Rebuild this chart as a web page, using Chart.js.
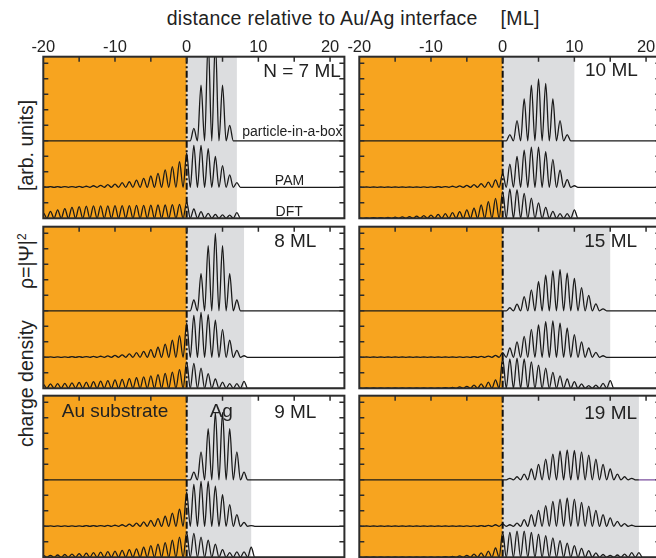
<!DOCTYPE html>
<html>
<head>
<meta charset="utf-8">
<script src="https://cdn.jsdelivr.net/npm/chart.js@4.4.1/dist/chart.umd.min.js"></script>
<style>
  body { margin: 0; width: 656px; height: 558px; overflow: hidden; background: #fff; position: relative;
         font-family: "Liberation Sans", Arial, sans-serif; color: #222; }
  canvas { position: absolute; }
  #title { position: absolute; left: 166.7px; top: 7.2px; font-size: 19.5px; line-height: 22px;
           letter-spacing: 0.3px; white-space: nowrap; }
  .ylab { position: absolute; left: 15.2px; font-size: 19.5px; line-height: 22px;
          white-space: nowrap; transform-origin: 0 0; transform: rotate(-90deg); }
  .ylab sup { font-size: 12px; line-height: 0; }
</style>
</head>
<body>
<div id="title">distance relative to Au/Ag interface&nbsp;&nbsp;&nbsp;&nbsp;[ML]</div>
<div class="ylab" style="top:447px">charge density</div>
<div class="ylab" style="top:289px">ρ=|Ψ|<sup>2</sup></div>
<div class="ylab" style="top:191px">[arb. units]</div>
<canvas id="c7"></canvas>
<canvas id="c10"></canvas>
<canvas id="c8"></canvas>
<canvas id="c15"></canvas>
<canvas id="c9"></canvas>
<canvas id="c19"></canvas>
<script>
// top axis labels
const xTicks = [-20, -10, 0, 10, 20];

// peak heights (arb. units) read per monolayer
// PIB: film only, starts at x = 0
// PAM / DFT: substrate starts at x = -20, film starts at x = 0
const pib7 = [0, 0.8, 3.6, 6.5, 6.5, 3.6, 1.0, 0];
const pam7sub = [0.04, 0.04, 0.04, 0.05, 0.05, 0.06, 0.07, 0.1, 0.13, 0.17, 0.2, 0.3, 0.36, 0.47, 0.58, 0.73, 0.9, 1.12, 1.33, 1.65];
const pam7 = [2.2, 2.7, 2.7, 2.5, 2.0, 1.4, 0.8, 0.3];
const dft7sub = [0.35, 0.45, 0.55, 0.62, 0.7, 0.75, 0.78, 0.8, 0.8, 0.8, 0.82, 0.82, 0.82, 0.84, 0.84, 0.85, 0.86, 0.86, 0.88, 0.9];
const dft7 = [1.05, 0.6, 0.43, 0.32, 0.25, 0.22, 0.2, 0.36];

const pib8 = [0, 0.7, 2.4, 4.2, 5.0, 4.2, 2.4, 0.7, 0];
const pam8sub = [0.03, 0.03, 0.03, 0.03, 0.04, 0.04, 0.05, 0.06, 0.07, 0.09, 0.12, 0.16, 0.22, 0.3, 0.38, 0.5, 0.65, 0.85, 1.1, 1.4];
const pam8 = [2.2, 2.7, 2.9, 2.75, 2.4, 1.8, 1.1, 0.45, 0.1];
const dft8sub = [0.25, 0.28, 0.3, 0.32, 0.35, 0.38, 0.4, 0.43, 0.46, 0.5, 0.54, 0.58, 0.63, 0.68, 0.74, 0.8, 0.88, 0.96, 1.05, 1.2];
const dft8 = [1.7, 1.6, 1.3, 0.95, 0.6, 0.4, 0.3, 0.3, 0.45];

const pib9 = [0, 0.5, 1.8, 3.3, 4.35, 4.35, 3.3, 1.8, 0.5, 0];
const pam9sub = [0.03, 0.03, 0.03, 0.03, 0.03, 0.03, 0.04, 0.04, 0.05, 0.06, 0.07, 0.1, 0.14, 0.2, 0.28, 0.38, 0.5, 0.65, 0.85, 1.1];
const pam9 = [2.2, 2.7, 2.9, 2.9, 2.6, 2.05, 1.4, 0.75, 0.25, 0.05];
const dft9sub = [0.12, 0.13, 0.15, 0.18, 0.21, 0.24, 0.27, 0.3, 0.34, 0.37, 0.4, 0.45, 0.5, 0.55, 0.65, 0.75, 0.85, 0.95, 1.1, 1.3];
const dft9 = [1.6, 1.55, 1.3, 1.1, 0.85, 0.5, 0.3, 0.35, 0.35, 0.65];

const pib10 = [0, 0.4, 1.3, 2.7, 3.6, 4.0, 3.7, 2.7, 1.3, 0.4, 0];
const pam10sub = [0.02, 0.02, 0.02, 0.02, 0.02, 0.02, 0.02, 0.02, 0.02, 0.03, 0.03, 0.04, 0.05, 0.07, 0.09, 0.12, 0.17, 0.24, 0.33, 0.48];
const pam10 = [0.9, 1.5, 2.0, 2.4, 2.6, 2.6, 2.3, 1.8, 1.1, 0.5, 0.1];
const dft10sub = [0.03, 0.03, 0.04, 0.05, 0.06, 0.07, 0.09, 0.11, 0.14, 0.17, 0.2, 0.25, 0.3, 0.36, 0.43, 0.54, 0.65, 0.86, 1.07, 1.29];
const dft10 = [1.72, 1.9, 1.85, 1.6, 1.3, 1.0, 0.7, 0.45, 0.3, 0.3, 0.55];

const pib15 = [0, 0.2, 0.43, 0.92, 1.35, 1.9, 2.3, 2.58, 2.65, 2.43, 2.1, 1.5, 1.0, 0.45, 0.13, 0];
const pam15sub = [0.02, 0.02, 0.02, 0.02, 0.02, 0.02, 0.02, 0.02, 0.02, 0.02, 0.02, 0.02, 0.02, 0.02, 0.03, 0.03, 0.04, 0.06, 0.08, 0.12];
const pam15 = [0.3, 0.6, 1.0, 1.35, 1.8, 2.1, 2.3, 2.35, 2.2, 1.9, 1.47, 1.0, 0.6, 0.32, 0.1, 0];
const dft15sub = [0.02, 0.02, 0.02, 0.02, 0.02, 0.02, 0.02, 0.02, 0.02, 0.02, 0.03, 0.03, 0.04, 0.06, 0.09, 0.13, 0.2, 0.28, 0.4, 0.55];
const dft15 = [1.95, 1.9, 1.95, 1.9, 1.7, 1.5, 1.3, 1.03, 0.8, 0.6, 0.43, 0.28, 0.17, 0.2, 0.32, 0.5];

const pib19 = [0, 0.1, 0.2, 0.37, 0.7, 1.0, 1.33, 1.65, 1.87, 1.93, 1.9, 1.8, 1.6, 1.33, 1.0, 0.7, 0.37, 0.2, 0.1, 0];
const pam19sub = [0.02, 0.02, 0.02, 0.02, 0.02, 0.02, 0.02, 0.02, 0.02, 0.02, 0.02, 0.02, 0.02, 0.02, 0.02, 0.03, 0.03, 0.04, 0.06, 0.1];
const pam19 = [0.15, 0.1, 0.2, 0.43, 0.75, 1.03, 1.33, 1.6, 1.76, 1.83, 1.76, 1.55, 1.3, 1.03, 0.75, 0.54, 0.32, 0.17, 0.07, 0];
const dft19sub = [0.02, 0.02, 0.02, 0.02, 0.02, 0.02, 0.02, 0.02, 0.02, 0.02, 0.03, 0.03, 0.04, 0.06, 0.09, 0.13, 0.2, 0.28, 0.4, 0.6];
const dft19 = [1.6, 1.6, 1.68, 1.68, 1.6, 1.5, 1.4, 1.25, 1.07, 0.92, 0.75, 0.58, 0.43, 0.28, 0.18, 0.12, 0.15, 0.2, 0.3, 0.3];

const XMIN = -20, XMAX = 22, YMAX = 10.43;
const PIB_BASE = 5, PAM_BASE = 2, DFT_BASE = 0;

const ORANGE = '#f7a41f', GRAY = '#dcdddf', INK = '#1a1a1a', FRAME = '#2c2c2c', VIOLET = '#7b4f9e';
const FONT = '"Liberation Sans", Arial, sans-serif';

// plot area geometry (px)
const COL_X = [43.3, 359.3];
const ROW_Y = [56.7, 226.7, 395.7];
const PW = 301.1, PH = 161.6, M = 16;

// peaks at whole monolayers, density minima half way between
function osc(startX, peaks, base) {
  const pts = [{ x: XMIN - 1, y: base }];
  peaks.forEach((h, i) => {
    const x = startX + i;
    pts.push({ x: x - 0.5, y: base });
    pts.push({ x: x, y: base + h });
  });
  const last = startX + peaks.length - 1;
  pts.push({ x: last + 0.5, y: base });
  pts.push({ x: XMAX + 1, y: base });
  return pts;
}

const panelPlugin = {
  id: 'panel',
  beforeDatasetsDraw(chart, args, o) {
    const { ctx, chartArea: a, scales: { x } } = chart;
    ctx.save();
    ctx.fillStyle = ORANGE;
    ctx.fillRect(a.left, a.top, x.getPixelForValue(0) - a.left, a.bottom - a.top);
    ctx.fillStyle = GRAY;
    ctx.fillRect(x.getPixelForValue(0), a.top, x.getPixelForValue(o.n) - x.getPixelForValue(0), a.bottom - a.top);
    ctx.restore();
  },
  afterDatasetsDraw(chart, args, o) {
    const { ctx, chartArea: a, scales: { x, y } } = chart;
    ctx.save();
    // interface line
    const x0 = x.getPixelForValue(0);
    ctx.strokeStyle = '#111';
    ctx.lineWidth = 2;
    ctx.setLineDash([7, 2.5, 2, 2.5]);
    ctx.beginPath(); ctx.moveTo(x0, a.top); ctx.lineTo(x0, a.bottom); ctx.stroke();
    ctx.setLineDash([]);
    // inward ticks
    ctx.strokeStyle = FRAME;
    ctx.lineWidth = 1.5;
    ctx.beginPath();
    for (let v = -15; v <= 20; v += 5) {
      const px = x.getPixelForValue(v);
      ctx.moveTo(px, a.top); ctx.lineTo(px, a.top + 5);
    }
    for (let v = 1; v <= 10; v++) {
      const py = y.getPixelForValue(v);
      ctx.moveTo(a.left, py); ctx.lineTo(a.left + 5, py);
      ctx.moveTo(a.right, py); ctx.lineTo(a.right - 5, py);
    }
    ctx.stroke();
    // frame
    ctx.lineWidth = 2;
    ctx.strokeRect(a.left, a.top, a.right - a.left, a.bottom - a.top);
    // texts
    ctx.fillStyle = '#222';
    ctx.textBaseline = 'alphabetic';
    (o.texts || []).forEach(t => {
      ctx.font = t.size + 'px ' + FONT;
      ctx.textAlign = t.align;
      ctx.fillText(t.text, x.getPixelForValue(t.x), y.getPixelForValue(t.y));
    });
    ctx.restore();
  }
};

function bigLabel(text, xv, yv, align) {
  return { text, x: xv, y: yv, align: align || 'right', size: 19 };
}
function smallLabel(text, xv, yv, align) {
  return { text, x: xv, y: yv, align, size: 14 };
}

function makePanel(id, row, col, n, pib, pamSub, pam, dftSub, dft, texts, tailColor) {
  const el = document.getElementById(id);
  const left = Math.floor(COL_X[col]) - M;
  const top = row === 0 ? 0 : Math.floor(ROW_Y[row]) - M;
  const w = Math.ceil(PW) + 2 * M;
  const h = Math.ceil(ROW_Y[row] + PH) + M - top;
  el.width = w; el.height = h;
  el.style.left = left + 'px'; el.style.top = top + 'px';
  const padL = COL_X[col] - left;
  const padT = row === 0 ? 0 : ROW_Y[row] - top;
  const padB = h - (ROW_Y[row] + PH - top);
  const topRow = row === 0;

  const line = (data, extra) => Object.assign({
    data, borderColor: INK, borderWidth: 1.3, pointRadius: 0,
    cubicInterpolationMode: 'monotone', fill: false, clip: { left: 0, top: 0, right: 0, bottom: 2 }
  }, extra || {});

  const pibExtra = tailColor
    ? { segment: { borderColor: c => (c.p0.parsed.x >= n ? tailColor : undefined) } }
    : null;

  new Chart(el, {
    type: 'line',
    data: {
      datasets: [
        line(osc(0, pib, PIB_BASE), pibExtra),
        line(osc(-20, pamSub.concat(pam), PAM_BASE)),
        line(osc(-20, dftSub.concat(dft), DFT_BASE))
      ]
    },
    options: {
      responsive: false,
      animation: false,
      events: [],
      layout: { padding: { left: padL, right: w - padL - PW, top: padT, bottom: padB } },
      plugins: { legend: { display: false }, tooltip: { enabled: false }, panel: { n, texts } },
      scales: {
        x: {
          type: 'linear', position: 'top', min: XMIN, max: XMAX,
          display: topRow,
          grid: { display: false }, border: { display: false },
          afterBuildTicks: s => { s.ticks = xTicks.map(v => ({ value: v })); },
          afterFit: s => {
            if (!topRow) return;
            s.height = ROW_Y[0]; s.paddingLeft = 0; s.paddingRight = 0;
          },
          ticks: { font: { family: FONT, size: 16.5 }, color: '#222', padding: -9, maxRotation: 0, autoSkip: false }
        },
        y: { type: 'linear', min: 0, max: YMAX, display: false }
      }
    },
    plugins: [panelPlugin]
  });
}

makePanel('c7', 0, 0, 7, pib7, pam7sub, pam7, dft7sub, dft7, [
  bigLabel('N = 7 ML', 21.5, 9.12),
  smallLabel('particle-in-a-box', 21.75, 5.31, 'right'),
  smallLabel('PAM', 14.34, 2.15, 'center'),
  smallLabel('DFT', 14.3, 0.17, 'center')
]);
makePanel('c10', 0, 1, 10, pib10, pam10sub, pam10, dft10sub, dft10, [bigLabel('10 ML', 18.85, 9.18)]);
makePanel('c8', 1, 0, 8, pib8, pam8sub, pam8, dft8sub, dft8, [bigLabel('8 ML', 18.1, 9.1)]);
makePanel('c15', 1, 1, 15, pib15, pam15sub, pam15, dft15sub, dft15, [bigLabel('15 ML', 18.75, 9.1)]);
makePanel('c9', 2, 0, 9, pib9, pam9sub, pam9, dft9sub, dft9, [
  bigLabel('9 ML', 18.1, 8.97),
  bigLabel('Au substrate', -17.43, 9.07, 'left'),
  bigLabel('Ag', 4.83, 9.07, 'center')
]);
makePanel('c19', 2, 1, 19, pib19, pam19sub, pam19, dft19sub, dft19, [bigLabel('19 ML', 18.75, 8.9)], VIOLET);
</script>
</body>
</html>
